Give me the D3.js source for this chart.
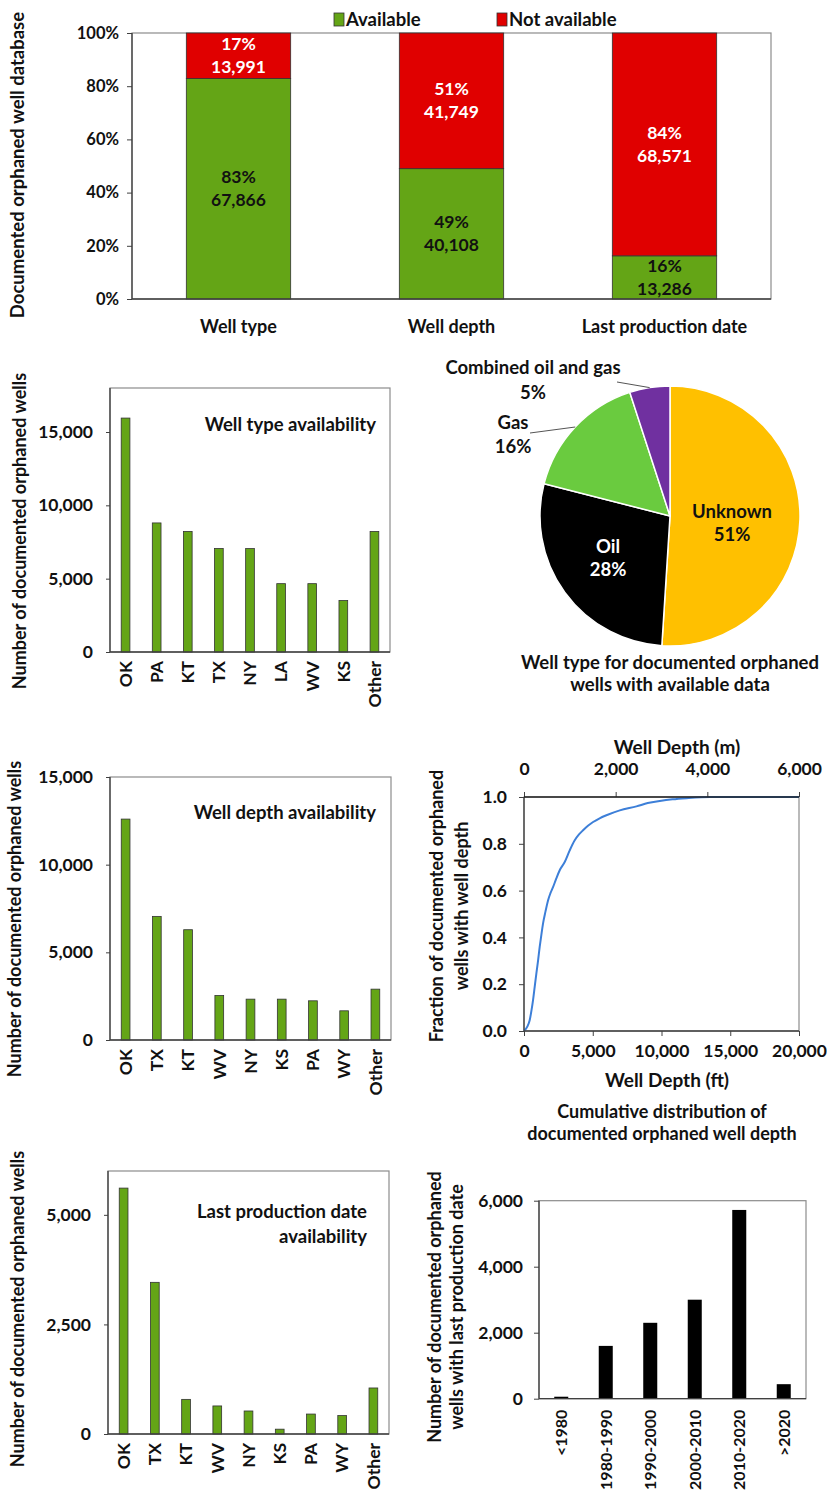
<!DOCTYPE html>
<html>
<head>
<meta charset="utf-8">
<script src="https://cdn.jsdelivr.net/npm/d3@7"></script>
<style>
  body { margin: 0; background: #fff; }
  svg text { font-family: Lato, "Open Sans", sans-serif; font-weight: 700; }
</style>
</head>
<body>
<svg id="chart"></svg>
<script>
// ---- data ----
let summaryCats = ["Well type", "Well depth", "Last production date"]
let availableCounts = [67866, 40108, 13286]
let notAvailableCounts = [13991, 41749, 68571]

let typeStates = ["OK", "PA", "KT", "TX", "NY", "LA", "WV", "KS", "Other"]
let typeCounts = [15950, 8800, 8220, 7060, 7050, 4660, 4660, 3510, 8220]

let depthStates = ["OK", "TX", "KT", "WV", "NY", "KS", "PA", "WY", "Other"]
let depthCounts = [12600, 7050, 6290, 2540, 2330, 2330, 2235, 1665, 2900]

let dateStates = ["OK", "TX", "KT", "WV", "NY", "KS", "PA", "WY", "Other"]
let dateCounts = [5610, 3460, 790, 640, 525, 110, 455, 420, 1050]

let wellTypes = ["Unknown", "Oil", "Gas", "Combined oil and gas"]
let wellTypeShares = [51, 28, 16, 5]

// cumulative distribution of well depth (ft, fraction)
let depthFt = [0, 250, 413, 550, 655, 780, 898, 1020, 1141, 1260, 1383, 1560, 1747, 1930, 2112, 2350, 2597, 2961, 3325, 3689, 4000, 4296, 4650, 5024, 5500, 5995, 6966, 8180, 9000, 9878, 10800, 11820, 13519, 20000]
let depthFraction = [0, 0.02, 0.046, 0.09, 0.131, 0.19, 0.245, 0.30, 0.359, 0.41, 0.459, 0.51, 0.558, 0.59, 0.615, 0.652, 0.687, 0.722, 0.772, 0.815, 0.84, 0.858, 0.877, 0.893, 0.909, 0.922, 0.943, 0.960, 0.974, 0.983, 0.99, 0.995, 1.0, 1.0]

let periods = ["<1980", "1980-1990", "1990-2000", "2000-2010", "2010-2020", ">2020"]
let periodCounts = [60, 1600, 2300, 3000, 5720, 440]

// ---- canvas ----
let width = 827
let height = 1494
let green = "#64a516"
let red = "#e00000"
let frameColor = "#8c8c8c"
let axisColor = "#404040"

let svg = d3.select("#chart").attr("width", width).attr("height", height)

// small helpers
let styleAxis = function(g, size) {
  g.select(".domain").remove()
  g.selectAll(".tick line").attr("stroke", axisColor)
  g.selectAll(".tick text").style("fill", "#111").style("font-size", size + "px")
      .style("font-family", "Lato, 'Open Sans', sans-serif").style("font-weight", 700)
}

let frame = function(left, right, top, bottom) {
  svg.append("rect")
     .attr("x", left).attr("y", top)
     .attr("width", right - left).attr("height", bottom - top)
     .attr("fill", "none").attr("stroke", frameColor).attr("stroke-width", 1.2)
}

let axisLines = function(left, right, top, bottom) {
  svg.append("line").attr("x1", left).attr("x2", left).attr("y1", top).attr("y2", bottom)
     .attr("stroke", axisColor).attr("stroke-width", 1.3)
  svg.append("line").attr("x1", left).attr("x2", right).attr("y1", bottom).attr("y2", bottom)
     .attr("stroke", axisColor).attr("stroke-width", 1.3)
}

let vTitle = function(lines, x0, cy, size, gap) {
  let t = svg.append("text")
     .attr("transform", "translate(" + x0 + "," + cy + ") rotate(-90)")
     .attr("text-anchor", "middle")
     .style("font-size", size + "px")
     .style("fill", "#111")
  lines.forEach((s, i) => {
    t.append("tspan").attr("x", 0).attr("y", i * gap).attr("dy", "0.35em").text(s)
  })
}

let textLines = function(lines, x, y, anchor, size, gap, color) {
  let t = svg.append("text")
     .attr("text-anchor", anchor)
     .style("font-size", size + "px")
     .style("fill", color || "#111")
  lines.forEach((s, i) => {
    t.append("tspan").attr("x", x).attr("y", y + i * gap).attr("dy", "0.35em").text(s)
  })
  return t
}

// ---- 1. stacked availability chart ----
let drawSummary = function() {
  let left = 132, right = 771, top = 33, bottom = 299
  let x = d3.scaleBand().domain(summaryCats).range([left, right]).paddingInner(0.51).paddingOuter(0.255)
  let y = d3.scaleLinear().domain([0, 1]).range([bottom, top])

  frame(left, right, top, bottom)

  let rows = summaryCats.map((c, i) => {
    let total = availableCounts[i] + notAvailableCounts[i]
    return { cat: c, avail: availableCounts[i] / total, notAvail: notAvailableCounts[i] / total,
             a: availableCounts[i], n: notAvailableCounts[i] }
  })
  let stack = d3.stack().keys(["avail", "notAvail"])(rows)
  let colors = [green, red]
  let fmt = d3.format(",")

  stack.forEach((layer, li) => {
    svg.append("g").selectAll("rect")
       .data(layer)
       .enter()
       .append("rect")
       .attr("x", d => x(d.data.cat))
       .attr("width", x.bandwidth())
       .attr("y", d => y(d[1]))
       .attr("height", d => y(d[0]) - y(d[1]))
       .attr("fill", colors[li])
       .attr("stroke", "#333")
       .attr("stroke-width", 0.8)

    layer.forEach(d => {
      let share = li == 0 ? d.data.avail : d.data.notAvail
      let count = li == 0 ? d.data.a : d.data.n
      let cy = y((d[0] + d[1]) / 2)
      textLines([Math.round(share * 100) + "%", fmt(count)],
                x(d.data.cat) + x.bandwidth() / 2, cy - 11.5, "middle", 17.5, 23,
                li == 0 ? "#111" : "#fff")
    })
  })

  let yAxis = d3.axisLeft(y).tickValues([0, 0.2, 0.4, 0.6, 0.8, 1]).tickFormat(d3.format(".0%"))
                .tickSizeInner(5).tickSizeOuter(0).tickPadding(8)
  svg.append("g").attr("transform", "translate(" + left + ",0)").call(yAxis).call(g => styleAxis(g, 16.5))
  axisLines(left, right, top, bottom)

  summaryCats.forEach(c => {
    textLines([c], x(c) + x.bandwidth() / 2, 327, "middle", 18, 0)
  })

  // legend
  let legend = [["Available", green, 334], ["Not available", red, 497]]
  legend.forEach(l => {
    svg.append("rect").attr("x", l[2]).attr("y", 13).attr("width", 10).attr("height", 13)
       .attr("fill", l[1]).attr("stroke", "#333").attr("stroke-width", 0.8)
    textLines([l[0]], l[2] + 12, 19.5, "start", 18.5, 0)
  })

  vTitle(["Documented orphaned well database"], 18, 165, 18.5, 0)
}

// ---- state bar charts ----
let drawStateBars = function(cats, vals, box) {
  let x = d3.scaleBand().domain(cats).range([box.left, box.right]).paddingInner(0.72).paddingOuter(0.36)
  let y = d3.scaleLinear().domain([0, box.max]).range([box.bottom, box.top])

  frame(box.left, box.right, box.top, box.bottom)

  svg.append("g").selectAll("rect")
     .data(vals)
     .enter()
     .append("rect")
     .attr("x", (d, i) => x(cats[i]))
     .attr("width", x.bandwidth())
     .attr("y", d => y(d))
     .attr("height", d => box.bottom - y(d))
     .attr("fill", green)
     .attr("stroke", "#333")
     .attr("stroke-width", 0.8)

  let yAxis = d3.axisLeft(y).tickValues(box.ticks).tickFormat(d3.format(","))
                .tickSizeInner(4).tickSizeOuter(0).tickPadding(box.pad)
  svg.append("g").attr("transform", "translate(" + box.left + ",0)").call(yAxis).call(g => styleAxis(g, 17.5))

  let xAxis = d3.axisBottom(x).tickSize(0).tickPadding(0)
  svg.append("g").attr("transform", "translate(0," + box.bottom + ")").call(xAxis)
     .call(g => styleAxis(g, 17.5))
     .call(g => g.selectAll(".tick text")
                 .attr("transform", "rotate(-90)")
                 .attr("x", -9).attr("y", 0).attr("dy", "0.36em")
                 .style("text-anchor", "end"))
  axisLines(box.left, box.right, box.top, box.bottom)

  textLines(box.title, box.titleX, box.titleY, "end", 18.5, 25)
  vTitle(["Number of documented orphaned wells"], box.yTitleX, box.yTitleY, 18, 0)
}

// ---- pie ----
let drawPie = function() {
  let cx = 670, cy = 516, r = 130
  let colors = ["#ffc000", "#000000", "#6acb3f", "#7030a0"]
  let pie = d3.pie().sort(null).value(d => d)(wellTypeShares)
  let arc = d3.arc().innerRadius(0).outerRadius(r)
  let g = svg.append("g").attr("transform", "translate(" + cx + "," + cy + ")")
  g.selectAll("path")
   .data(pie)
   .enter()
   .append("path")
   .attr("d", arc)
   .attr("fill", (d, i) => colors[i])
   .attr("stroke", "#fff")
   .attr("stroke-width", 1.5)

  // inside labels
  textLines([wellTypes[0], wellTypeShares[0] + "%"], cx + 62, cy + 7 - 11.5, "middle", 18.5, 23)
  textLines([wellTypes[1], wellTypeShares[1] + "%"], cx - 62, cy + 42 - 11.5, "middle", 18.5, 23, "#fff")

  // outside labels with leader lines
  let edge = function(d) {
    let a = (d.startAngle + d.endAngle) / 2
    return [cx + r * Math.sin(a), cy - r * Math.cos(a)]
  }
  let gasEnd = edge(pie[2])
  svg.append("line").attr("x1", 530).attr("y1", 433).attr("x2", gasEnd[0]).attr("y2", gasEnd[1])
     .attr("stroke", "#555").attr("stroke-width", 1)
  textLines([wellTypes[2], wellTypeShares[2] + "%"], 513, 423, "middle", 18.5, 24)

  let combEnd = edge(pie[3])
  svg.append("line").attr("x1", 617).attr("y1", 382).attr("x2", combEnd[0]).attr("y2", combEnd[1])
     .attr("stroke", "#555").attr("stroke-width", 1)
  textLines([wellTypes[3], wellTypeShares[3] + "%"], 533, 368, "middle", 18.5, 25)

  textLines(["Well type for documented orphaned", "wells with available data"], 670, 663, "middle", 18.5, 22)
}

// ---- cumulative depth distribution ----
let drawCdf = function() {
  let left = 524, right = 799, top = 797, bottom = 1031
  let x = d3.scaleLinear().domain([0, 20000]).range([left, right])
  let xm = d3.scaleLinear().domain([0, 6000]).range([left, right])
  let y = d3.scaleLinear().domain([0, 1]).range([bottom, top])

  frame(left, right, top, bottom)

  let pts = depthFt.map((d, i) => [d, depthFraction[i]])
  let line = d3.line().x(d => x(d[0])).y(d => y(d[1])).curve(d3.curveMonotoneX)
  svg.append("path").datum(pts).attr("d", line)
     .attr("fill", "none").attr("stroke", "#3d7fd8").attr("stroke-width", 2)

  let yAxis = d3.axisLeft(y).tickValues([0, 0.2, 0.4, 0.6, 0.8, 1]).tickFormat(d3.format(".1f"))
                .tickSizeInner(5).tickSizeOuter(0).tickPadding(12)
  svg.append("g").attr("transform", "translate(" + left + ",0)").call(yAxis).call(g => styleAxis(g, 17.5))

  let xAxis = d3.axisBottom(x).tickValues([0, 5000, 10000, 15000, 20000]).tickFormat(d3.format(","))
                .tickSizeInner(5).tickSizeOuter(0).tickPadding(9)
  svg.append("g").attr("transform", "translate(0," + bottom + ")").call(xAxis).call(g => styleAxis(g, 17.5))

  let xTop = d3.axisTop(xm).tickValues([0, 2000, 4000, 6000]).tickFormat(d3.format(","))
               .tickSizeInner(5).tickSizeOuter(0).tickPadding(17)
  svg.append("g").attr("transform", "translate(0," + top + ")").call(xTop).call(g => styleAxis(g, 17.5))

  axisLines(left, right, top, bottom)
  svg.append("line").attr("x1", left).attr("x2", right).attr("y1", top).attr("y2", top)
     .attr("stroke", "#222").attr("stroke-width", 1.5)

  textLines(["Well Depth (m)"], 677, 747, "middle", 19, 0)
  textLines(["Well Depth (ft)"], 667, 1080, "middle", 19, 0)
  textLines(["Cumulative distribution of", "documented orphaned well depth"], 662, 1112, "middle", 18, 22)
  vTitle(["Fraction of documented orphaned", "wells with well depth"], 437, 906, 18, 25)
}

// ---- last production period ----
let drawPeriods = function() {
  let left = 539, right = 806, top = 1200.7, bottom = 1398.7
  let x = d3.scaleBand().domain(periods).range([left, right]).paddingInner(0.685).paddingOuter(0.3425)
  let y = d3.scaleLinear().domain([0, 6000]).range([bottom, top])

  frame(left, right, top, bottom)

  svg.append("g").selectAll("rect")
     .data(periodCounts)
     .enter()
     .append("rect")
     .attr("x", (d, i) => x(periods[i]))
     .attr("width", x.bandwidth())
     .attr("y", d => y(d))
     .attr("height", d => bottom - y(d))
     .attr("fill", "#000")

  let yAxis = d3.axisLeft(y).tickValues([0, 2000, 4000, 6000]).tickFormat(d3.format(","))
                .tickSizeInner(5).tickSizeOuter(0).tickPadding(11)
  svg.append("g").attr("transform", "translate(0,0) translate(" + left + ",0)").call(yAxis).call(g => styleAxis(g, 17.5))

  let xAxis = d3.axisBottom(x).tickSize(0).tickPadding(0)
  svg.append("g").attr("transform", "translate(0," + bottom + ")").call(xAxis)
     .call(g => styleAxis(g, 16))
     .call(g => g.selectAll(".tick text")
                 .attr("transform", "rotate(-90)")
                 .attr("x", -11).attr("y", 0).attr("dy", "0.36em")
                 .style("text-anchor", "end"))
  axisLines(left, right, top, bottom)

  vTitle(["Number of documented orphaned", "wells with last production date"], 435, 1307, 18, 22)
}

drawSummary()
drawStateBars(typeStates, typeCounts, {
  left: 110, right: 390, top: 388, bottom: 652, max: 18000, ticks: [0, 5000, 10000, 15000], pad: 13,
  title: ["Well type availability"], titleX: 376, titleY: 425, yTitleX: 20, yTitleY: 531
})
drawPie()
drawStateBars(depthStates, depthCounts, {
  left: 110, right: 391, top: 777, bottom: 1040, max: 15000, ticks: [0, 5000, 10000, 15000], pad: 13,
  title: ["Well depth availability"], titleX: 376, titleY: 813, yTitleX: 15, yTitleY: 919
})
drawCdf()
drawStateBars(dateStates, dateCounts, {
  left: 108, right: 389, top: 1171, bottom: 1434, max: 6000, ticks: [0, 2500, 5000], pad: 13,
  title: ["Last production date", "availability"], titleX: 367, titleY: 1212, yTitleX: 18, yTitleY: 1309
})
drawPeriods()
</script>
</body>
</html>
